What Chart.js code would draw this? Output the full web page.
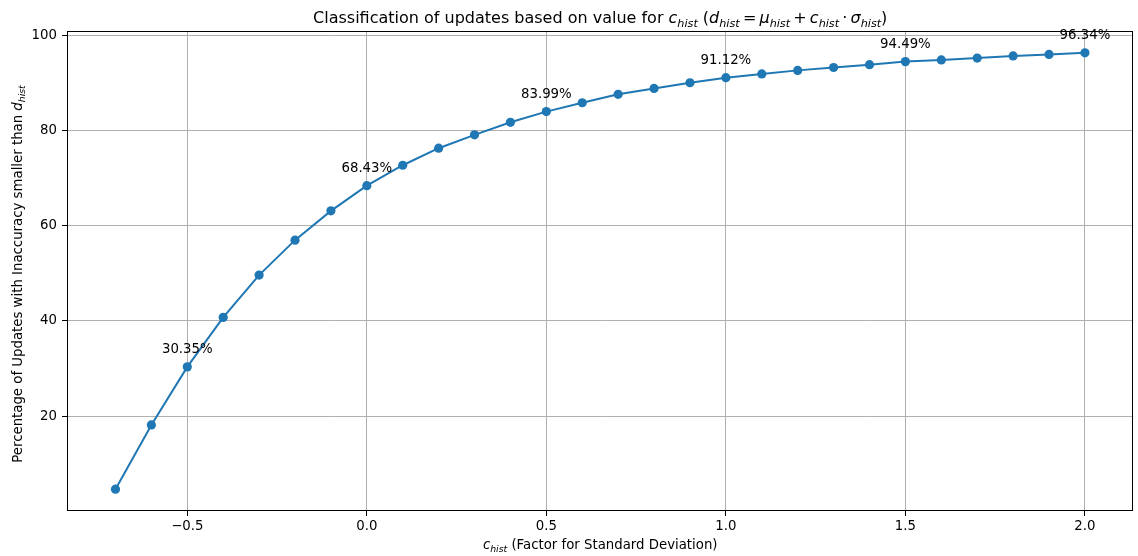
<!DOCTYPE html>
<html>
<head>
<meta charset="utf-8">
<script src="https://cdn.jsdelivr.net/npm/chart.js@4/dist/chart.umd.min.js"></script>
<style>
  html, body { margin: 0; padding: 0; background: #fff; }
  #wrap { width: 1138px; height: 556px; position: relative; }
</style>
</head>
<body>
<div id="wrap"><canvas id="c"></canvas></div>
<script>
// ---- Data ----
const cHistValues = [-0.7, -0.6, -0.5, -0.4, -0.3, -0.2, -0.1, 0.0, 0.1, 0.2, 0.3, 0.4, 0.5, 0.6,
                     0.7, 0.8, 0.9, 1.0, 1.1, 1.2, 1.3, 1.4, 1.5, 1.6, 1.7, 1.8, 1.9, 2.0];
const percentValues = [4.65, 18.15, 30.35, 40.75, 49.63, 56.98, 63.13, 68.43, 72.72, 76.30, 79.10, 81.74,
                       83.99, 85.85, 87.62, 88.85, 90.05, 91.12, 91.90, 92.65, 93.25, 93.85, 94.49, 94.85,
                       95.24, 95.68, 96.00, 96.34];
const annotatedC = [-0.5, 0.0, 0.5, 1.0, 1.5, 2.0];
const xTickValues = [-0.5, 0.0, 0.5, 1.0, 1.5, 2.0];
const yTickValues = [20, 40, 60, 80, 100];

const FONT = '"DejaVu Sans", sans-serif';
const BLUE = '#1f77b4';
const LABEL_SIZE = 13.3;
const TITLE_SIZE = 16;

// matplotlib-like 5% auto margins
function margins(arr) {
  const mn = Math.min(...arr), mx = Math.max(...arr), r = mx - mn;
  return [mn - 0.05 * r, mx + 0.05 * r];
}
const [xMin, xMax] = margins(cHistValues);
const [yMin, yMax] = margins(percentValues);

function fmtTick(v) {
  const s = Math.abs(v).toFixed(1);
  return v < 0 ? '\u2212' + s : s;
}

// rich text: segments [{t, it, sub}]
function drawRich(ctx, segs, size, x, y, align) {
  const parts = segs.map(s => {
    const fs = s.sub ? size * 0.7 : size;
    const font = (s.it ? 'italic ' : '') + fs + 'px ' + FONT;
    ctx.font = font;
    return { t: s.t, font, w: ctx.measureText(s.t).width, dy: s.sub ? size * 0.22 : 0 };
  });
  const total = parts.reduce((a, p) => a + p.w, 0);
  let cx = align === 'center' ? x - total / 2 : x;
  ctx.textBaseline = 'alphabetic';
  ctx.textAlign = 'left';
  for (const p of parts) {
    ctx.font = p.font;
    ctx.fillText(p.t, cx, y + p.dy);
    cx += p.w;
  }
}

const titleSegs = [
  { t: 'Classification of updates based on value for ' },
  { t: 'c', it: true }, { t: 'hist', it: true, sub: true },
  { t: ' (' },
  { t: 'd', it: true }, { t: 'hist', it: true, sub: true },
  { t: '\u2009=\u2009' },
  { t: '\u03bc', it: true }, { t: 'hist', it: true, sub: true },
  { t: '\u2009+\u2009' },
  { t: 'c', it: true }, { t: 'hist', it: true, sub: true },
  { t: '\u2009\u00b7\u2009' },
  { t: '\u03c3', it: true }, { t: 'hist', it: true, sub: true },
  { t: ')' }
];
const xLabelSegs = [
  { t: 'c', it: true }, { t: 'hist', it: true, sub: true },
  { t: ' (Factor for Standard Deviation)' }
];
const yLabelSegs = [
  { t: 'Percentage of Updates with Inaccuracy smaller than ' },
  { t: 'd', it: true }, { t: 'hist', it: true, sub: true }
];

const decorPlugin = {
  id: 'decor',
  afterDatasetsDraw(chart) {
    const ctx = chart.ctx;
    const xs = chart.scales.x, ys = chart.scales.y;
    ctx.save();
    ctx.fillStyle = '#000';
    ctx.font = LABEL_SIZE + 'px ' + FONT;
    ctx.textAlign = 'center';
    ctx.textBaseline = 'alphabetic';
    annotatedC.forEach(c => {
      const i = cHistValues.findIndex(v => Math.abs(v - c) < 1e-9);
      const px = xs.getPixelForValue(cHistValues[i]);
      const py = ys.getPixelForValue(percentValues[i]);
      ctx.fillText(percentValues[i].toFixed(2) + '%', px, py - 13.5);
    });
    ctx.restore();
  },
  afterDraw(chart) {
    const ctx = chart.ctx;
    const a = chart.chartArea;
    ctx.save();
    ctx.strokeStyle = '#000';
    ctx.lineWidth = 1;
    ctx.strokeRect(Math.round(a.left) + 0.5, Math.round(a.top) + 0.5,
                   Math.round(a.right - a.left) - 1, Math.round(a.bottom - a.top) - 1);
    ctx.fillStyle = '#000';
    const cx = (a.left + a.right) / 2;
    drawRich(ctx, titleSegs, TITLE_SIZE, cx, 23, 'center');
    drawRich(ctx, xLabelSegs, LABEL_SIZE, cx, 549, 'center');
    ctx.translate(22, (a.top + a.bottom) / 2 + 3);
    ctx.rotate(-Math.PI / 2);
    drawRich(ctx, yLabelSegs, LABEL_SIZE, 0, 0, 'center');
    ctx.restore();
  }
};

new Chart(document.getElementById('c'), {
  type: 'line',
  data: {
    datasets: [{
      data: cHistValues.map((x, i) => ({ x, y: percentValues[i] })),
      borderColor: BLUE,
      backgroundColor: BLUE,
      borderWidth: 2,
      pointRadius: 4.6,
      pointHoverRadius: 4.6,
      pointBorderWidth: 0,
      pointBackgroundColor: BLUE,
      tension: 0,
      fill: false
    }]
  },
  options: {
    responsive: true,
    maintainAspectRatio: false,
    animation: false,
    devicePixelRatio: 1,
    layout: { padding: { top: 31, right: 3, left: 0, bottom: 0 } },
    plugins: { legend: { display: false }, tooltip: { enabled: false }, title: { display: false } },
    scales: {
      x: {
        type: 'linear',
        min: xMin, max: xMax,
        afterBuildTicks: ax => { ax.ticks = xTickValues.map(v => ({ value: v })); },
        afterFit: ax => { ax.height = 45; },
        ticks: {
          callback: v => fmtTick(v),
          color: '#000',
          font: { family: FONT, size: LABEL_SIZE },
          padding: 3,
          maxRotation: 0,
          autoSkip: false
        },
        grid: { color: '#b0b0b0', lineWidth: 1, tickColor: '#000', tickLength: 5, drawTicks: true },
        border: { display: false }
      },
      y: {
        type: 'linear',
        min: yMin, max: yMax,
        afterBuildTicks: ax => { ax.ticks = yTickValues.map(v => ({ value: v })); },
        afterFit: ax => { ax.width = 67; },
        ticks: {
          callback: v => String(v),
          color: '#000',
          font: { family: FONT, size: LABEL_SIZE },
          padding: 5,
          autoSkip: false
        },
        grid: { color: '#b0b0b0', lineWidth: 1, tickColor: '#000', tickLength: 5, drawTicks: true },
        border: { display: false }
      }
    }
  },
  plugins: [decorPlugin]
});
</script>
</body>
</html>
